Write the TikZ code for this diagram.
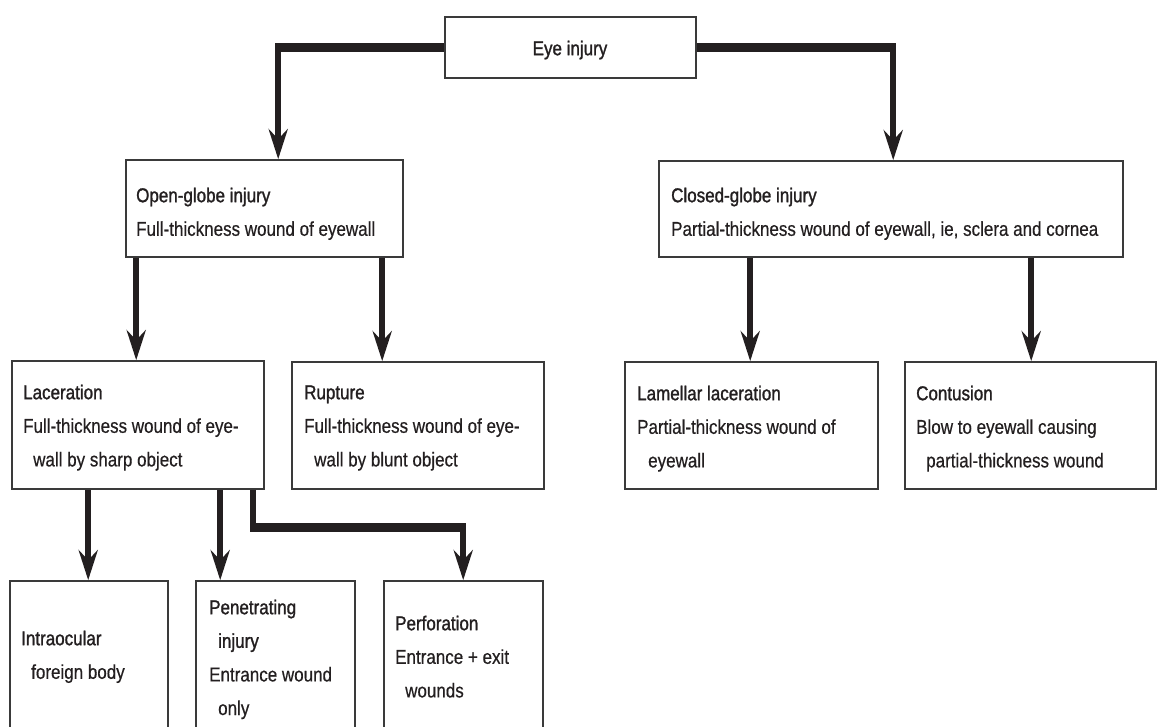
\documentclass[tikz,border=0pt]{standalone}
\usepackage{fontspec}
\setmainfont{Liberation Sans}[FakeStretch=0.85,FakeBold=0.5]
\newfontfamily\hdfont{Liberation Sans}[FakeStretch=0.85,FakeBold=1.3]
\usetikzlibrary{arrows.meta,fit}
\definecolor{ink}{HTML}{231F20}
\definecolor{boxline}{HTML}{3A3A3A}
\newcommand{\strt}{\rule{0pt}{15pt}}
\begin{document}
\begin{tikzpicture}[x=1pt,y=-1pt,
  box/.style={draw=boxline,line width=1.6pt,inner sep=0pt,fill=white},
  txt/.style={inner sep=0pt,align=left,text=ink,font=\fontsize{20}{33.6}\selectfont},
  conn/.style={draw=ink,line width=6pt,-{Stealth[length=30pt,width=19pt,inset=10pt]}},
  hbar/.style={draw=ink,line width=9pt,line cap=butt}]
\useasboundingbox (0,0) rectangle (1158,727);
\clip (0,0) rectangle (1158,727);
% boxes
\node[box,fit={(445,17) (696,78)}] (eye) {};
\node[box,fit={(126,160) (403,257)}] (open) {};
\node[box,fit={(659,161) (1123,257)}] (closed) {};
\node[box,fit={(12,361) (264,489)}] (lac) {};
\node[box,fit={(292,362) (544,489)}] (rup) {};
\node[box,fit={(625,362) (878,489)}] (lam) {};
\node[box,fit={(905,362) (1156,489)}] (con) {};
\node[box,fit={(10,581) (168,745)}] (intra) {};
\node[box,fit={(196,581) (355,745)}] (pen) {};
\node[box,fit={(384,581) (543,745)}] (perf) {};
% texts
\node[txt,anchor=north] (eyeT) at (570,40) {\strt\hdfont Eye injury};
\node[txt,anchor=north west] (openT) at (136,187) {\strt{\hdfont Open-globe injury}\\Full-thickness wound of eyewall};
\node[txt,anchor=north west] (closedT) at (671,187) {\strt{\hdfont Closed-globe injury}\\Partial-thickness wound of eyewall, ie, sclera and cornea};
\node[txt,anchor=north west] (lacT) at (23,384) {\strt{\hdfont Laceration}\\Full-thickness wound of eye-\\\hspace*{10pt}wall by sharp object};
\node[txt,anchor=north west] (rupT) at (304,384) {\strt{\hdfont Rupture}\\Full-thickness wound of eye-\\\hspace*{10pt}wall by blunt object};
\node[txt,anchor=north west] (lamT) at (637,385) {\strt{\hdfont Lamellar laceration}\\Partial-thickness wound of\\\hspace*{11pt}eyewall};
\node[txt,anchor=north west] (conT) at (916,385) {\strt{\hdfont Contusion}\\Blow to eyewall causing\\\hspace*{10pt}partial-thickness wound};
\node[txt,anchor=north west] (intraT) at (21,630) {\strt\hdfont Intraocular\\\hspace*{10pt}foreign body};
\node[txt,anchor=north west] (penT) at (209,599) {\strt{\hdfont Penetrating}\\\hspace*{9pt}{\hdfont injury}\\Entrance wound\\\hspace*{9pt}only};
\node[txt,anchor=north west] (perfT) at (395,615) {\strt{\hdfont Perforation}\\Entrance + exit\\\hspace*{10pt}wounds};
% connector end points
\coordinate (oa) at ([xshift=153pt]open.north west);
\coordinate (ca) at ([xshift=235pt]closed.north west);
\coordinate (pa) at ([xshift=80pt]perf.north west);
\coordinate (ls) at ([xshift=242pt]lac.south west);
\coordinate (bend) at ([yshift=-38pt]ls);
% connectors
\draw[conn] (eye.west) -| (oa);
\draw[hbar] (eye.west) -- ([xshift=-3pt]eye.west -| oa);
\draw[conn] (eye.east) -| (ca);
\draw[hbar] (eye.east) -- ([xshift=3pt]eye.east -| ca);
\draw[conn] ([xshift=11pt]open.south west) -- ([xshift=125pt]lac.north west);
\draw[conn] ([xshift=257pt]open.south west) -- ([xshift=91pt]rup.north west);
\draw[conn] ([xshift=92pt]closed.south west) -- ([xshift=126pt]lam.north west);
\draw[conn] ([xshift=373pt]closed.south west) -- ([xshift=127pt]con.north west);
\draw[conn] ([xshift=77pt]lac.south west) -- ([xshift=79pt]intra.north west);
\draw[conn] ([xshift=209pt]lac.south west) -- ([xshift=25pt]pen.north west);
\draw[conn] (ls) -- (bend) -| (pa);
\draw[hbar] ([xshift=-3pt]bend) -- ([xshift=3pt]bend -| pa);
\end{tikzpicture}
\end{document}
